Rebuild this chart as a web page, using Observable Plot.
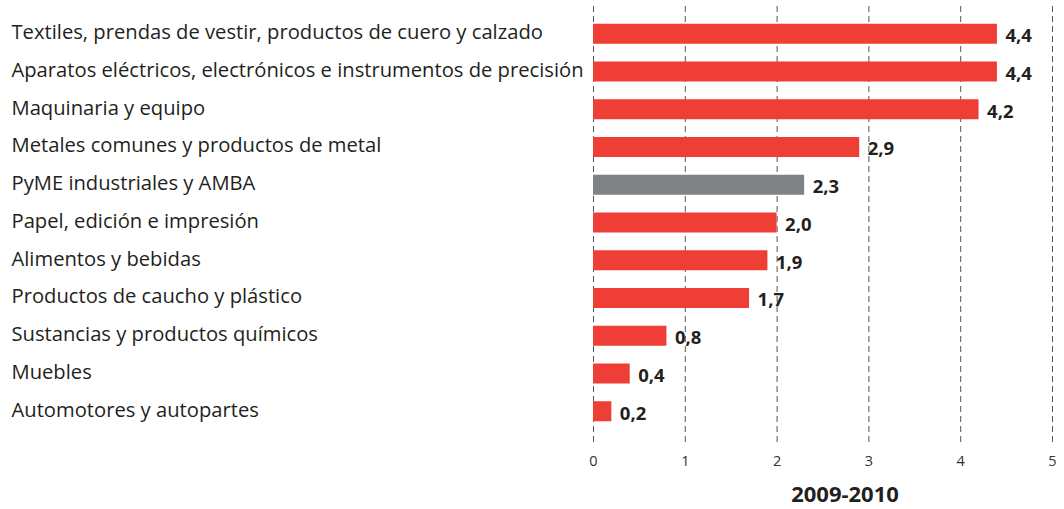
<!DOCTYPE html>
<html>
<head>
<meta charset="utf-8">
<script src="https://cdn.jsdelivr.net/npm/d3@7"></script>
<script src="https://cdn.jsdelivr.net/npm/@observablehq/plot@0.6"></script>
<style>
  html, body { margin: 0; padding: 0; background: #fff; }
  #chart svg { display: block; }
</style>
</head>
<body>
<div id="chart"></div>
<script>
// Sectores industriales, variación 2009-2010
const sectores = [
  "Textiles, prendas de vestir, productos de cuero y calzado",
  "Aparatos eléctricos, electrónicos e instrumentos de precisión",
  "Maquinaria y equipo",
  "Metales comunes y productos de metal",
  "PyME industriales y AMBA",
  "Papel, edición e impresión",
  "Alimentos y bebidas",
  "Productos de caucho y plástico",
  "Sustancias y productos químicos",
  "Muebles",
  "Automotores y autopartes"
];
const valores = [4.4, 4.4, 4.2, 2.9, 2.3, 2.0, 1.9, 1.7, 0.8, 0.4, 0.2];
const total = "PyME industriales y AMBA";
const xTicks = [0, 1, 2, 3, 4, 5];
const periodo = "2009-2010";

const data = sectores.map((s, i) => ({sector: s, valor: valores[i]}));
const fmt = v => v.toFixed(1).replace(".", ",");

const font = "'Open Sans', 'Noto Sans', sans-serif";

const chart = Plot.plot({
  width: 1064,
  height: 509,
  marginLeft: 593,
  marginRight: 12,
  marginTop: 6,
  marginBottom: 64,
  style: {fontFamily: font, color: "#231f20", background: "#fff"},
  x: {domain: [0, 5], ticks: xTicks},
  y: {domain: sectores, padding: 0.47, insetBottom: 6, round: false},
  marks: [
    Plot.gridX(xTicks, {stroke: "#555", strokeOpacity: 1, strokeDasharray: "6,4", strokeWidth: 1}),
    Plot.barX(data, {
      x: "valor", y: "sector",
      fill: d => d.sector === total ? "#818285" : "#ef3e36"
    }),
    Plot.text(data, {
      x: "valor", y: "sector", text: d => fmt(d.valor),
      textAnchor: "start", dx: 8, dy: 2,
      fontWeight: "bold", fontSize: 18.5, fill: "#231f20"
    }),
    Plot.axisY({
      tickSize: 0, textAnchor: "start", dx: -573, dy: -1.5, label: null,
      fontSize: 20.2, fill: "#231f20"
    }),
    Plot.axisX({
      ticks: xTicks, tickFormat: "d", tickSize: 0, tickPadding: 10, label: null,
      fontSize: 14.5, fill: "#333"
    }),
    Plot.text([periodo], {
      frameAnchor: "bottom", dx: 22, dy: 56, text: d => d,
      fontWeight: "bold", fontSize: 22, fill: "#231f20"
    })
  ]
});

document.getElementById("chart").append(chart);
</script>
</body>
</html>
